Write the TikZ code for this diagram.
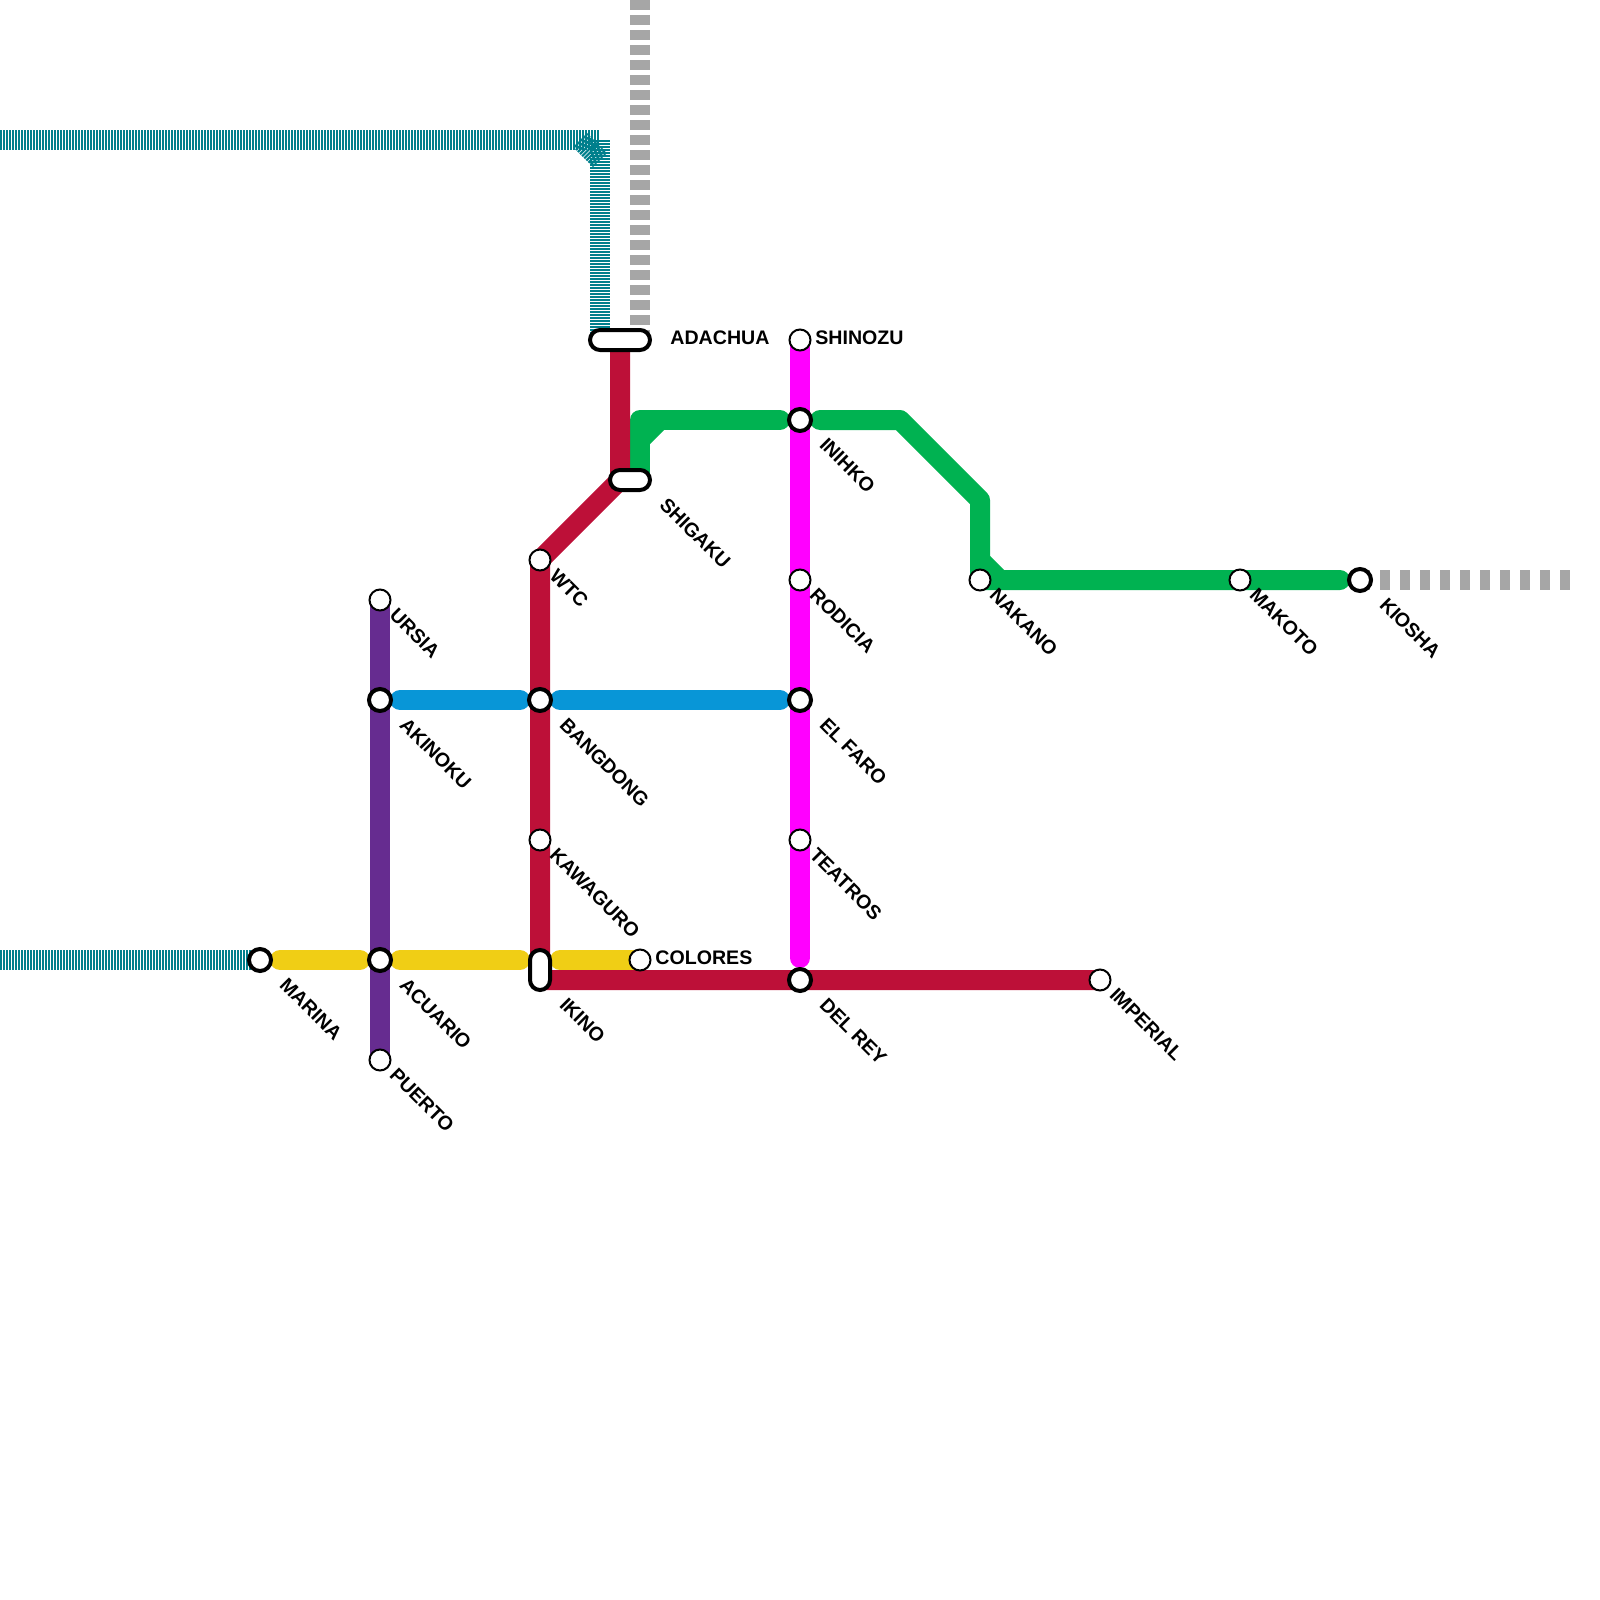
\documentclass[tikz,border=0pt]{standalone}
\usepackage{fontspec}
\setmainfont{Liberation Sans}
\definecolor{cteal}{HTML}{007F8C}
\definecolor{cgray}{HTML}{A6A6A6}
\definecolor{cred}{HTML}{BD1038}
\definecolor{cgreen}{HTML}{00B251}
\definecolor{cmag}{HTML}{FF00FF}
\definecolor{cpur}{HTML}{662C90}
\definecolor{cblue}{HTML}{0896D7}
\definecolor{cyel}{HTML}{F0CE15}
\tikzset{
  x=0.5pt,y=-0.5pt,
  route/.style={line width=10pt,line join=round,line cap=round},
  buttroute/.style={line width=10pt,line join=round,line cap=butt},
  gapped/.style={route,shorten <=10pt,shorten >=10pt},
  teal/.style={cteal,line width=10pt,dash pattern=on 1pt off 0.5pt},
  grayv/.style={cgray,line width=10pt,dash pattern=on 5pt off 2.5pt},
  grayh/.style={cgray,line width=10pt,dash pattern=on 5pt off 5pt},
  halt/.style={circle,draw=black,fill=white,line width=1pt,minimum size=10.5pt,inner sep=0pt},
  hub/.style={circle,draw=black,fill=white,line width=2pt,minimum size=11pt,inner sep=0pt},
  pill/.style={draw=black,fill=white,line width=2pt,rounded corners=5pt},
  lbl/.style={font=\fontsize{9.8pt}{11pt}\bfseries,inner sep=0pt,anchor=west},
  dlbl/.style={lbl,rotate=-45},
}
\begin{document}
\begin{tikzpicture}
\useasboundingbox (0,0) rectangle (1600,1600);
% anchors
\coordinate (tl0) at (0,140);
\coordinate (tl1) at (580,140);
\coordinate (tl2) at (600,160);
\coordinate (tlh) at (599,140);
\coordinate (tlv) at (600,140);
\coordinate (tl3) at (600,340);
\coordinate (tb0) at (0,960);
\coordinate (gv0) at (640,0);
\coordinate (gv1) at (640,340);
\coordinate (gh1) at (1570,580);
\coordinate (adr) at (620,340);
\coordinate (shr) at (620,480);
\coordinate (shg) at (640,480);
\coordinate (g1) at (640,420);
\coordinate (g1a) at (640,440);
\coordinate (g1b) at (660,420);
\coordinate (g2) at (900,420);
\coordinate (g3) at (980,500);
\coordinate (g4) at (980,560);
\coordinate (g5) at (1000,580);
\coordinate (ikr) at (540,980);
\coordinate (iky) at (540,960);
% stations
\coordinate (marina) at (260,960);
\coordinate (ursia) at (380,600);
\coordinate (akinoku) at (380,700);
\coordinate (acuario) at (380,960);
\coordinate (puerto) at (380,1060);
\coordinate (wtc) at (540,560);
\coordinate (bangdong) at (540,700);
\coordinate (kawaguro) at (540,840);
\coordinate (colores) at (640,960);
\coordinate (shinozu) at (800,340);
\coordinate (inihko) at (800,420);
\coordinate (rodicia) at (800,580);
\coordinate (elfaro) at (800,700);
\coordinate (teatros) at (800,840);
\coordinate (delrey) at (800,980);
\coordinate (imperial) at (1100,980);
\coordinate (nakano) at (980,580);
\coordinate (makoto) at (1240,580);
\coordinate (kiosha) at (1360,580);
% dashed and striped routes
\draw[teal] (tl0) -- (tlh);
\draw[teal] (tl1) -- (tl2);
\draw[teal] (tlv) -- (tl3);
\draw[teal] (tb0) -- (marina);
\draw[grayv] (gv0) -- (gv1);
\draw[grayh] (kiosha) -- (gh1);
% solid routes
\draw[buttroute,cpur] (ursia) -- (puerto);
\draw[route,cmag,shorten >=11pt] (shinozu) -- (delrey);
\draw[gapped,cyel] (marina) -- (acuario);
\draw[gapped,cyel] (acuario) -- (iky);
\draw[gapped,cyel,shorten >=0pt] (iky) -- (colores);
\draw[gapped,cblue] (akinoku) -- (bangdong);
\draw[gapped,cblue] (bangdong) -- (elfaro);
\draw[route,cgreen,shorten >=10pt] (shg) -- (g1) -- (inihko);
\draw[route,cgreen] (g1a) -- (g1b);
\draw[route,cgreen,shorten <=10pt,shorten >=10pt] (inihko) -- (g2) -- (g3) -- (nakano) -- (kiosha);
\draw[route,cgreen] (g4) -- (g5);
\draw[buttroute,cred] (adr) -- (shr) -- (wtc) -- (ikr) -- (imperial);
% interchanges and stops
\node[pill,minimum width=30pt,minimum height=10pt] (adachua) at (620,340) {};
\node[pill,minimum width=20pt,minimum height=10pt] (shigaku) at (630,480) {};
\node[pill,minimum width=10pt,minimum height=20pt] (ikino) at (540,970) {};
\node[hub] (nmarina) at (marina) {};
\node[hub] (nakinoku) at (akinoku) {};
\node[hub] (nacuario) at (acuario) {};
\node[hub] (nbangdong) at (bangdong) {};
\node[hub] (ninihko) at (inihko) {};
\node[hub] (nelfaro) at (elfaro) {};
\node[hub] (ndelrey) at (delrey) {};
\node[hub] (nkiosha) at (kiosha) {};
\node[halt] (nursia) at (ursia) {};
\node[halt] (npuerto) at (puerto) {};
\node[halt] (nwtc) at (wtc) {};
\node[halt] (nkawaguro) at (kawaguro) {};
\node[halt] (ncolores) at (colores) {};
\node[halt] (nshinozu) at (shinozu) {};
\node[halt] (nrodicia) at (rodicia) {};
\node[halt] (nteatros) at (teatros) {};
\node[halt] (nimperial) at (imperial) {};
\node[halt] (nnakano) at (nakano) {};
\node[halt] (nmakoto) at (makoto) {};
% labels
\node[lbl] (ladachua) at (670,338) {ADACHUA};
\node[lbl] (lshinozu) at (815,338) {SHINOZU};
\node[lbl] (lcolores) at (655,958) {COLORES};
\node[dlbl] (lmarina) at (283,981) {MARINA};
\node[dlbl] (lursia) at (393,611) {URSIA};
\node[dlbl] (lakinoku) at (403,721) {AKINOKU};
\node[dlbl] (lacuario) at (403,981) {ACUARIO};
\node[dlbl] (lpuerto) at (393,1071) {PUERTO};
\node[dlbl] (lwtc) at (553,572) {WTC};
\node[dlbl] (lbangdong) at (563,721) {BANGDONG};
\node[dlbl] (lkawaguro) at (553,851) {KAWAGURO};
\node[dlbl] (likino) at (563,1001) {IKINO};
\node[dlbl] (lshigaku) at (663,501) {SHIGAKU};
\node[dlbl] (linihko) at (823,441) {INIHKO};
\node[dlbl] (lrodicia) at (813,591) {RODICIA};
\node[dlbl] (lelfaro) at (823,721) {EL FARO};
\node[dlbl] (lteatros) at (813,851) {TEATROS};
\node[dlbl] (ldelrey) at (823,1001) {DEL REY};
\node[dlbl] (limperial) at (1113,991) {IMPERIAL};
\node[dlbl] (lnakano) at (993,591) {NAKANO};
\node[dlbl] (lmakoto) at (1253,591) {MAKOTO};
\node[dlbl] (lkiosha) at (1383,601) {KIOSHA};
\end{tikzpicture}
\end{document}
